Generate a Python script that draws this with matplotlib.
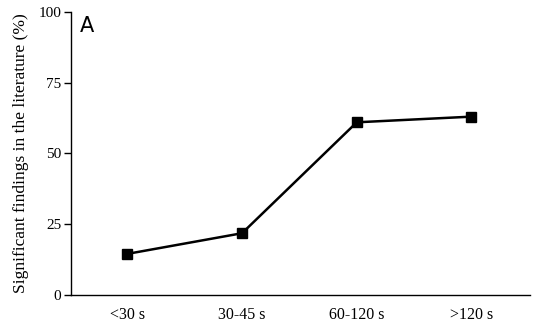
import matplotlib
matplotlib.use('Agg')
import matplotlib.pyplot as plt

categories = ['<30 s', '30-45 s', '60-120 s', '>120 s']
values = [14.5, 21.8, 61.0, 63.0]
yticks = [0, 25, 50, 75, 100]

plt.rcParams['font.family'] = ['Liberation Serif', 'DejaVu Serif']

fig = plt.figure(figsize=(5.43, 3.23), dpi=100, facecolor='white')
ax = fig.add_axes([0.131, 0.087, 0.845, 0.876])

x = list(range(len(categories)))
ax.plot(x, values, 'k-', linewidth=1.8, marker='s', markersize=6.5, color='black')

ax.set_xlim(-0.49, 3.51)
ax.set_ylim(0, 100)
ax.set_yticks(yticks)
ax.set_xticks(x)
ax.set_xticklabels(categories)
ax.tick_params(axis='x', length=0, labelsize=11.5, pad=9)
ax.tick_params(axis='y', direction='out', length=5, width=1, labelsize=11, pad=2)
ax.spines['top'].set_visible(False)
ax.spines['right'].set_visible(False)
ax.spines['left'].set_linewidth(1)
ax.spines['bottom'].set_linewidth(1)
ax.set_ylabel('Significant findings in the literature (%)', fontsize=12.5, labelpad=7)

ax.text(0.02, 0.985, 'A', transform=ax.transAxes, ha='left', va='top',
        fontsize=15, family='DejaVu Sans')

plt.savefig('out.png', dpi=100, facecolor='white')
plt.close()
